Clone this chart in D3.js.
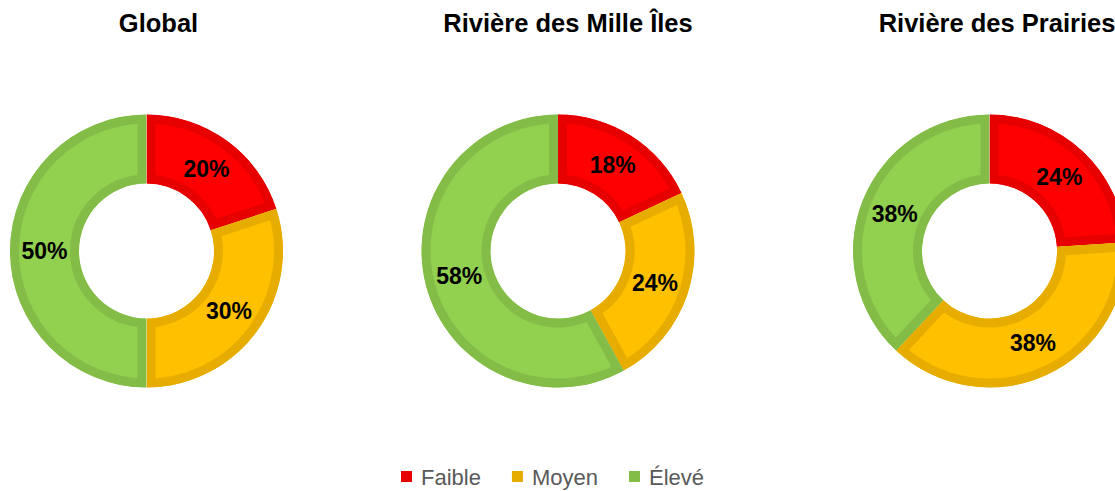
<!DOCTYPE html>
<html>
<head>
<meta charset="utf-8">
<script src="https://d3js.org/d3.v7.min.js"></script>
<style>
  body { margin: 0; background: #fff; }
  svg { display: block; font-family: "Liberation Sans", Arial, sans-serif; }
</style>
</head>
<body>
<div id="chart"></div>
<script>
// categories and values (percent)
const categories = ['Faible', 'Moyen', 'Élevé'];
const chartTitles = ['Global', 'Rivière des Mille Îles', 'Rivière des Prairies'];
const globalValues = [20, 30, 50];
const milleIlesValues = [18, 24, 58];
const prairiesValues = [24, 38, 38];

const fills = ['#FF0000', '#FFC000', '#92D050'];
const borders = ['#E60000', '#E6AC00', '#84BC48'];

const width = 1115, height = 491;
const centers = [146.5, 558, 989.5];
const titleX = [158.5, 568, 997];
const cy = 251;
const outerR = 136.5, innerR = 67.5;
const border = 9;

const svg = d3.select('#chart').append('svg')
  .attr('width', width)
  .attr('height', height);

const color = d3.scaleOrdinal().domain(categories).range(fills);
const strokeColor = d3.scaleOrdinal().domain(categories).range(borders);

const pie = d3.pie().sort(null).value(d => d.value);
const arc = d3.arc().innerRadius(innerR).outerRadius(outerR);
const labelArc = d3.arc().innerRadius((innerR + outerR) / 2).outerRadius((innerR + outerR) / 2);

const series = [globalValues, milleIlesValues, prairiesValues];

series.forEach((vals, ci) => {
  const data = categories.map((c, i) => ({ name: c, value: vals[i] }));
  const g = svg.append('g').attr('transform', `translate(${centers[ci]},${cy})`);

  svg.append('text')
    .attr('x', titleX[ci])
    .attr('y', 32)
    .attr('text-anchor', 'middle')
    .style('font-size', '25.5px')
    .style('font-weight', 'bold')
    .style('fill', '#000')
    .text(chartTitles[ci]);

  const arcs = pie(data);

  // clip each slice to itself so the stroke becomes an inner border
  arcs.forEach((a, i) => {
    const id = `clip-${ci}-${i}`;
    g.append('clipPath').attr('id', id)
      .append('path').attr('d', arc(a));
    g.append('path')
      .attr('d', arc(a))
      .attr('clip-path', `url(#${id})`)
      .style('fill', color(a.data.name))
      .style('stroke', strokeColor(a.data.name))
      .style('stroke-width', border * 2)
      .style('stroke-linejoin', 'miter');
  });

  g.selectAll('.lbl')
    .data(arcs)
    .enter().append('text')
    .attr('class', 'lbl')
    .attr('transform', d => `translate(${labelArc.centroid(d)})`)
    .attr('text-anchor', 'middle')
    .attr('dy', '0.35em')
    .style('font-size', '23px')
    .style('font-weight', 'bold')
    .style('fill', '#000')
    .text(d => d.data.value + '%');
});

// legend
const legend = svg.append('g');
let lx = 401;
categories.forEach((c, i) => {
  legend.append('rect')
    .attr('x', lx).attr('y', 471)
    .attr('width', 11).attr('height', 11)
    .style('fill', borders[i]);
  const t = legend.append('text')
    .attr('x', lx + 20).attr('y', 485)
    .style('font-size', '22px')
    .style('fill', '#595959')
    .text(c);
  lx += 20 + t.node().getComputedTextLength() + 31;
});
</script>
</body>
</html>
